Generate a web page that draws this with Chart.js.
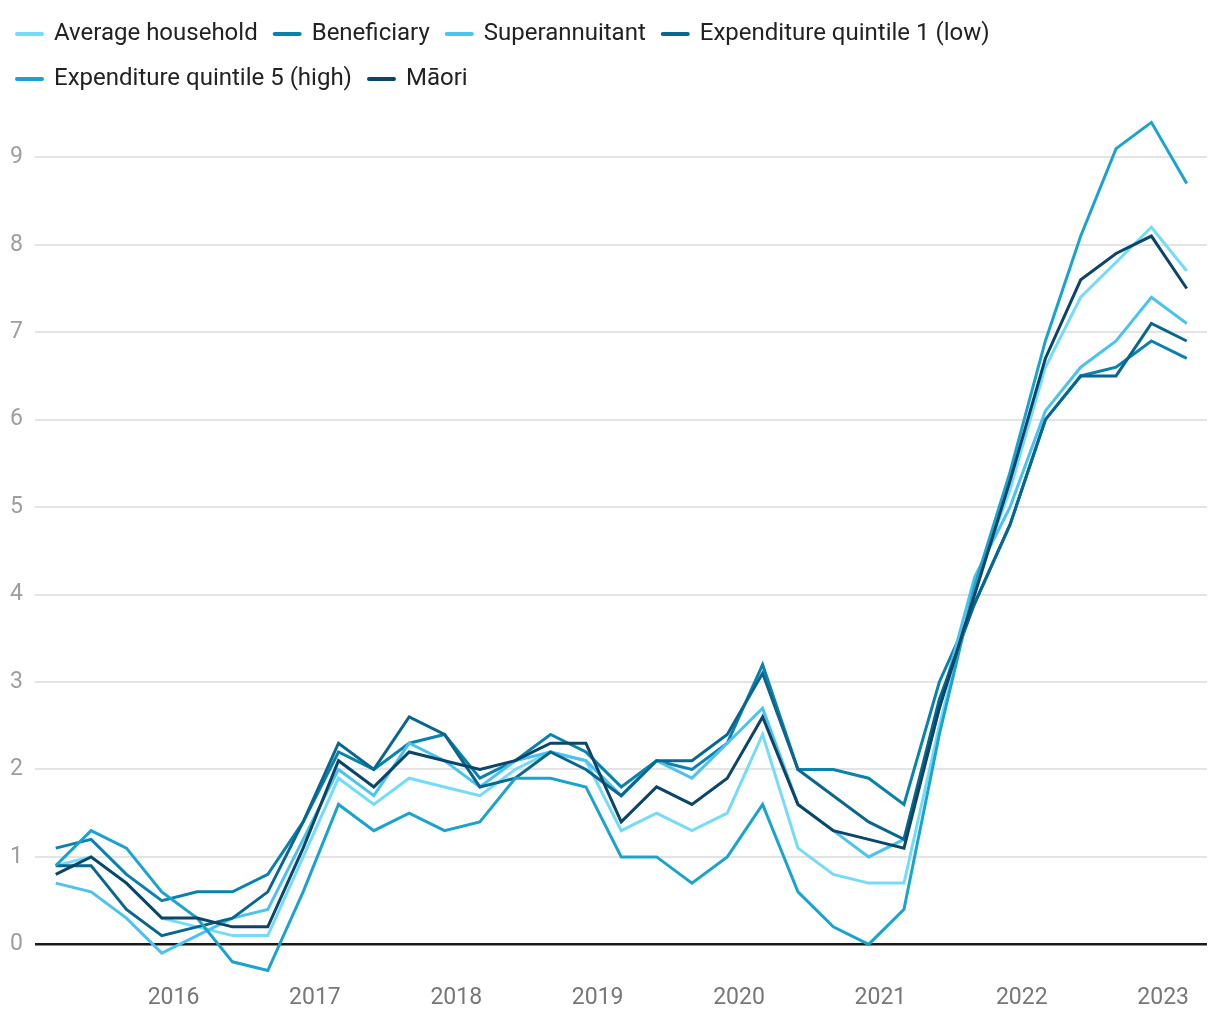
<!DOCTYPE html>
<html>
<head>
<meta charset="utf-8">
<script src="https://cdn.jsdelivr.net/npm/chart.js@4.4.1/dist/chart.umd.min.js"></script>
<style>
  html, body { margin: 0; padding: 0; background: #fff; }
  #wrap { width: 1220px; height: 1020px; position: relative; }
</style>
</head>
<body>
<div id="wrap"><canvas id="chart"></canvas></div>
<script>
// quarterly points, Mar 2015 - Mar 2023
const quarters = [
    '2015-03', '2015-06', '2015-09', '2015-12',
    '2016-03', '2016-06', '2016-09', '2016-12',
    '2017-03', '2017-06', '2017-09', '2017-12',
    '2018-03', '2018-06', '2018-09', '2018-12',
    '2019-03', '2019-06', '2019-09', '2019-12',
    '2020-03', '2020-06', '2020-09', '2020-12',
    '2021-03', '2021-06', '2021-09', '2021-12',
    '2022-03', '2022-06', '2022-09', '2022-12',
    '2023-03'
];
const yearTicks = [2016, 2017, 2018, 2019, 2020, 2021, 2022, 2023];

const averageHousehold = [0.9, 1.0, 0.7, 0.3, 0.2, 0.1, 0.1, 1.0, 1.9, 1.6, 1.9, 1.8, 1.7, 2.0, 2.2, 2.1, 1.3, 1.5, 1.3, 1.5, 2.4, 1.1, 0.8, 0.7, 0.7, 2.5, 4.1, 5.2, 6.6, 7.4, 7.8, 8.2, 7.7];
const beneficiary = [1.1, 1.2, 0.8, 0.5, 0.6, 0.6, 0.8, 1.4, 2.2, 2.0, 2.3, 2.4, 1.9, 2.1, 2.4, 2.2, 1.8, 2.1, 2.0, 2.3, 3.2, 2.0, 2.0, 1.9, 1.6, 3.0, 3.9, 4.8, 6.0, 6.5, 6.6, 6.9, 6.7];
const superannuitant = [0.7, 0.6, 0.3, -0.1, 0.1, 0.3, 0.4, 1.2, 2.0, 1.7, 2.3, 2.1, 1.8, 2.1, 2.2, 2.1, 1.7, 2.1, 1.9, 2.3, 2.7, 1.6, 1.3, 1.0, 1.2, 2.7, 4.2, 5.0, 6.1, 6.6, 6.9, 7.4, 7.1];
const quintile1 = [0.9, 0.9, 0.4, 0.1, 0.2, 0.3, 0.6, 1.4, 2.3, 2.0, 2.6, 2.4, 1.8, 1.9, 2.2, 2.0, 1.7, 2.1, 2.1, 2.4, 3.1, 2.0, 1.7, 1.4, 1.2, 2.8, 3.9, 4.8, 6.0, 6.5, 6.5, 7.1, 6.9];
const quintile5 = [0.9, 1.3, 1.1, 0.6, 0.3, -0.2, -0.3, 0.6, 1.6, 1.3, 1.5, 1.3, 1.4, 1.9, 1.9, 1.8, 1.0, 1.0, 0.7, 1.0, 1.6, 0.6, 0.2, 0.0, 0.4, 2.4, 4.1, 5.4, 6.9, 8.1, 9.1, 9.4, 8.7];
const maori = [0.8, 1.0, 0.7, 0.3, 0.3, 0.2, 0.2, 1.1, 2.1, 1.8, 2.2, 2.1, 2.0, 2.1, 2.3, 2.3, 1.4, 1.8, 1.6, 1.9, 2.6, 1.6, 1.3, 1.2, 1.1, 2.7, 4.0, 5.3, 6.7, 7.6, 7.9, 8.1, 7.5];

const seriesNames = ['Average household', 'Beneficiary', 'Superannuitant', 'Expenditure quintile 1 (low)', 'Expenditure quintile 5 (high)', 'Māori'];
const seriesColors = ['#74dcf8', '#0a82ad', '#4cc3ee', '#09668f', '#1aa3cf', '#0b4569'];
const seriesValues = [averageHousehold, beneficiary, superannuitant, quintile1, quintile5, maori];

// fractional year for each quarter so year ticks land on 1 January
const xPos = quarters.map(q => {
    const [y, m] = q.split('-').map(Number);
    return y + (m - 1) / 12;
});

const datasets = seriesNames.map((name, i) => ({
    label: name,
    data: seriesValues[i].map((v, j) => ({ x: xPos[j], y: v })),
    borderColor: seriesColors[i],
    backgroundColor: seriesColors[i],
    borderWidth: 3,
    pointRadius: 0,
    tension: 0,
    order: seriesNames.length - 1 - i  // last series drawn on top
}));

// draw legend markers as short rounded lines
const legendLines = {
    id: 'legendLines',
    afterDraw(chart) {
        const legend = chart.legend;
        if (!legend || !legend.legendHitBoxes) return;
        const ctx = chart.ctx;
        ctx.save();
        ctx.lineWidth = 4;
        ctx.lineCap = 'round';
        legend.legendHitBoxes.forEach((box, i) => {
            const item = legend.legendItems[i];
            const cy = box.top + box.height / 2;
            ctx.strokeStyle = seriesColors[item.datasetIndex];
            ctx.beginPath();
            ctx.moveTo(box.left + 2, cy);
            ctx.lineTo(box.left + 27, cy);
            ctx.stroke();
        });
        ctx.restore();
    }
};

Chart.defaults.font.family = 'Roboto, "Noto Sans", sans-serif';

new Chart(document.getElementById('chart'), {
    type: 'line',
    data: { datasets },
    plugins: [legendLines],
    options: {
        responsive: true,
        maintainAspectRatio: false,
        animation: false,
        layout: { padding: { left: 0, right: 13, top: 4, bottom: 0 } },
        plugins: {
            legend: {
                display: true,
                position: 'top',
                align: 'start',
                labels: {
                    boxWidth: 27,
                    boxHeight: 30,
                    padding: 15,
                    color: '#222',
                    font: { size: 24 },
                    sort: (a, b) => a.datasetIndex - b.datasetIndex,
                    generateLabels: chart => Chart.defaults.plugins.legend.labels.generateLabels(chart).map(l => ({
                        ...l,
                        fillStyle: 'rgba(0,0,0,0)',
                        strokeStyle: 'rgba(0,0,0,0)',
                        lineWidth: 0
                    }))
                }
            },
            tooltip: { enabled: false }
        },
        scales: {
            x: {
                type: 'linear',
                min: 2015.02,
                max: 2023.31,
                afterBuildTicks: axis => { axis.ticks = yearTicks.map(v => ({ value: v })); },
                afterFit: axis => { axis.height = 42; },
                grid: { display: false, drawTicks: false },
                border: { display: false },
                ticks: {
                    padding: 6,
                    color: '#777',
                    font: { size: 23 },
                    maxRotation: 0,
                    callback: v => String(v)
                }
            },
            y: {
                min: -0.385,
                max: 9.61,
                afterBuildTicks: axis => {
                    axis.ticks = axis.ticks.filter(t => t.value >= 0 && Number.isInteger(t.value));
                },
                afterFit: axis => { axis.width = 35; },
                grid: {
                    drawTicks: false,
                    color: ctx => ctx.tick && ctx.tick.value === 0 ? '#1a1a1a' : '#e4e4e4',
                    lineWidth: ctx => ctx.tick && ctx.tick.value === 0 ? 2.5 : 2
                },
                border: { display: false },
                ticks: {
                    stepSize: 1,
                    padding: 12,
                    color: '#9e9e9e',
                    font: { size: 23 }
                }
            }
        }
    }
});
</script>
</body>
</html>
